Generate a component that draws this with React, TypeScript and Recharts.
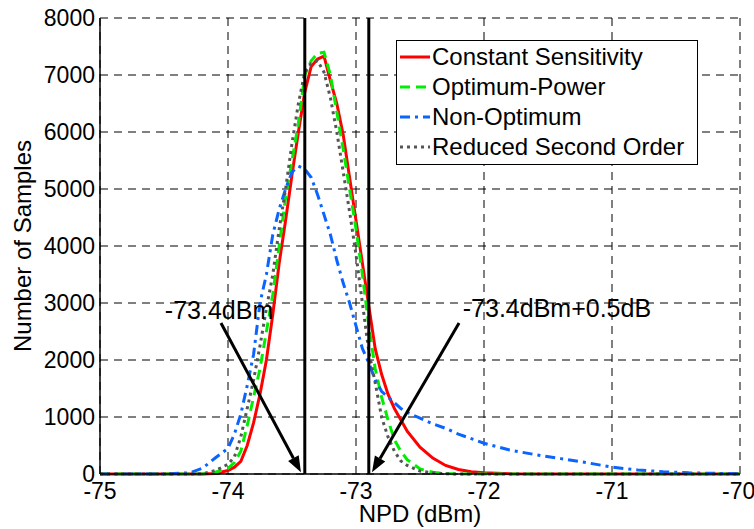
import React from "react";
import {
  LineChart,
  Line,
  XAxis,
  YAxis,
  CartesianGrid,
  ReferenceLine,
  ReferenceDot,
  Legend,
} from "recharts";

// NPD samples (dBm)
const NPD = [
  -75, -74.5, -74.3, -74.2, -74.1, -74.0, -73.95, -73.9, -73.85, -73.8, -73.75,
  -73.7, -73.65, -73.6, -73.55, -73.5, -73.45, -73.4, -73.35, -73.3, -73.25,
  -73.2, -73.15, -73.1, -73.05, -73.0, -72.95, -72.9, -72.85, -72.8, -72.75,
  -72.7, -72.65, -72.6, -72.5, -72.4, -72.3, -72.2, -72.1, -72.0, -71.8, -71.6,
  -71.4, -71.2, -71.0, -70.8, -70.6, -70.4, -70.0,
];

const CONSTANT = [
  0, 0, 0, 0, 10, 60, 120, 220, 500, 900, 1400, 2000, 2800, 3700, 4450, 5250,
  6000, 6700, 7150, 7280, 7330, 6900, 6500, 5950, 5200, 4450, 3700, 2950, 2200,
  1750, 1400, 1150, 950, 750, 470, 280, 150, 80, 40, 20, 5, 0, 0, 0, 0, 0, 0, 0,
  0,
];

const OPTIMUM = [
  0, 0, 0, 0, 30, 100, 200, 400, 850, 1350, 1850, 2500, 3150, 4000, 4850, 5500,
  6150, 7000, 7250, 7380, 7400, 7000, 6350, 5700, 5000, 4300, 3500, 2600, 1850,
  1350, 950, 600, 400, 250, 90, 30, 10, 0, 0, 0, 0, 0, 0, 0, 0, 0, 0, 0, 0,
];

const NON_OPTIMUM = [
  0, 0, 20, 100, 280, 450, 700, 1050, 1550, 2100, 3000, 3500, 4200, 4650, 5000,
  5300, 5400, 5350, 5200, 4900, 4550, 4200, 3750, 3350, 3000, 2600, 2200, 1950,
  1650, 1450, 1350, 1250, 1150, 1080, 980, 880, 800, 700, 620, 540, 420, 340,
  270, 200, 120, 70, 40, 20, 5,
];

const REDUCED = [
  0, 0, 0, 5, 60, 170, 300, 650, 1150, 1650, 2250, 2900, 3500, 4300, 5000, 5800,
  6500, 7050, 7200, 7250, 7050, 6600, 6000, 5300, 4600, 3850, 3000, 2150, 1600,
  1000, 650, 400, 230, 150, 50, 20, 5, 0, 0, 0, 0, 0, 0, 0, 0, 0, 0, 0, 0,
];

const X_TICKS = [-75, -74, -73, -72, -71, -70];
const Y_TICKS = [0, 1000, 2000, 3000, 4000, 5000, 6000, 7000, 8000];

// thresholds and annotations
const THRESHOLDS = [-73.4, -72.9];
const ARROWS = [
  { from: { x: -74.055, y: 2650 }, to: { x: -73.43, y: 30 } },
  { from: { x: -72.195, y: 2650 }, to: { x: -72.875, y: 30 } },
];
const NOTES = [
  { x: -74.07, y: 2880, text: "-73.4dBm" },
  { x: -71.43, y: 2910, text: "-73.4dBm+0.5dB" },
];

const SERIES = [
  { key: "constant", name: "Constant Sensitivity", color: "#ff0000", dash: undefined },
  { key: "optimum", name: "Optimum-Power", color: "#00ee00", dash: "10 6" },
  { key: "nonOptimum", name: "Non-Optimum", color: "#0a64ff", dash: "10 5 3 5" },
  { key: "reduced", name: "Reduced Second Order", color: "#555555", dash: "3 4" },
];

const data = NPD.map((npd, i) => ({
  npd,
  constant: CONSTANT[i],
  optimum: OPTIMUM[i],
  nonOptimum: NON_OPTIMUM[i],
  reduced: REDUCED[i],
}));

function Arrow(props: any) {
  const { x1, y1, x2, y2 } = props;
  const a = Math.atan2(y2 - y1, x2 - x1);
  const len = 16;
  const w = 6;
  const bx = x2 - len * Math.cos(a);
  const by = y2 - len * Math.sin(a);
  const pts = [
    `${x2},${y2}`,
    `${bx - w * Math.sin(a)},${by + w * Math.cos(a)}`,
    `${bx + w * Math.sin(a)},${by - w * Math.cos(a)}`,
  ].join(" ");
  return (
    <g>
      <line x1={x1} y1={y1} x2={bx} y2={by} stroke="#000" strokeWidth={3} />
      <polygon points={pts} fill="#000" />
    </g>
  );
}

function LegendBox() {
  return (
    <div
      style={{
        border: "1.5px solid #000",
        background: "#fff",
        width: 300,
        padding: "1px 0 2px 0",
        fontSize: 24,
        lineHeight: "30px",
        color: "#000",
      }}
    >
      {SERIES.map((s) => (
        <div key={s.key} style={{ display: "flex", alignItems: "center" }}>
          <svg width={34} height={10} style={{ marginLeft: 1 }}>
            <line
              x1={2}
              y1={5}
              x2={32}
              y2={5}
              stroke={s.color}
              strokeWidth={3}
              strokeDasharray={s.dash}
            />
          </svg>
          <span>{s.name}</span>
        </div>
      ))}
    </div>
  );
}

export default function App() {
  return (
    <div
      style={{
        position: "absolute",
        left: 0,
        top: 0,
        background: "#fff",
        fontFamily: "'Liberation Sans', Arial, sans-serif",
      }}
    >
      <LineChart
        width={754}
        height={529}
        data={data}
        margin={{ top: 18, right: 14, left: 0, bottom: 0 }}
      >
        <CartesianGrid stroke="#000" strokeDasharray="8 6" />
        <XAxis
          dataKey="npd"
          type="number"
          domain={[-75, -70]}
          ticks={X_TICKS}
          height={55}
          tickSize={0}
          tickMargin={9}
          tick={{ fill: "#000", fontSize: 23 }}
          axisLine={{ stroke: "#000", strokeWidth: 1.5 }}
          label={{
            value: "NPD (dBm)",
            position: "insideBottom",
            offset: 7,
            style: { fill: "#000", fontSize: 24 },
          }}
        />
        <XAxis
          xAxisId="top"
          orientation="top"
          dataKey="npd"
          type="number"
          domain={[-75, -70]}
          height={0}
          tick={false}
          tickLine={false}
          axisLine={{ stroke: "#000", strokeWidth: 1.5 }}
        />
        <YAxis
          domain={[0, 8000]}
          ticks={Y_TICKS}
          width={100}
          tickSize={0}
          tickMargin={5}
          tick={{ fill: "#000", fontSize: 23 }}
          axisLine={{ stroke: "#000", strokeWidth: 1.5 }}
          label={{
            value: "Number of Samples",
            angle: -90,
            position: "insideLeft",
            offset: 22,
            style: { fill: "#000", fontSize: 24, textAnchor: "middle" },
          }}
        />
        <YAxis
          yAxisId="right"
          orientation="right"
          domain={[0, 8000]}
          width={0}
          tick={false}
          tickLine={false}
          axisLine={{ stroke: "#000", strokeWidth: 1.5 }}
        />
        {SERIES.map((s) => (
          <Line
            key={s.key}
            dataKey={s.key}
            name={s.name}
            type="linear"
            stroke={s.color}
            strokeWidth={3}
            strokeDasharray={s.dash}
            dot={false}
            isAnimationActive={false}
          />
        ))}
        {THRESHOLDS.map((t) => (
          <ReferenceLine key={t} x={t} stroke="#000" strokeWidth={3} />
        ))}
        {ARROWS.map((a, i) => (
          <ReferenceLine
            key={`arrow-${i}`}
            segment={[a.from, a.to]}
            shape={Arrow}
          />
        ))}
        {NOTES.map((n) => (
          <ReferenceDot
            key={n.text}
            x={n.x}
            y={n.y}
            r={0}
            fill="none"
            stroke="none"
            label={{
              value: n.text,
              position: "center",
              style: { fill: "#000", fontSize: 25 },
            }}
          />
        ))}
        <Legend
          layout="horizontal"
          verticalAlign="middle"
          align="center"
          content={() => <LegendBox />}
          wrapperStyle={{ left: 396, top: 40, width: "auto", height: "auto" }}
        />
      </LineChart>
    </div>
  );
}
